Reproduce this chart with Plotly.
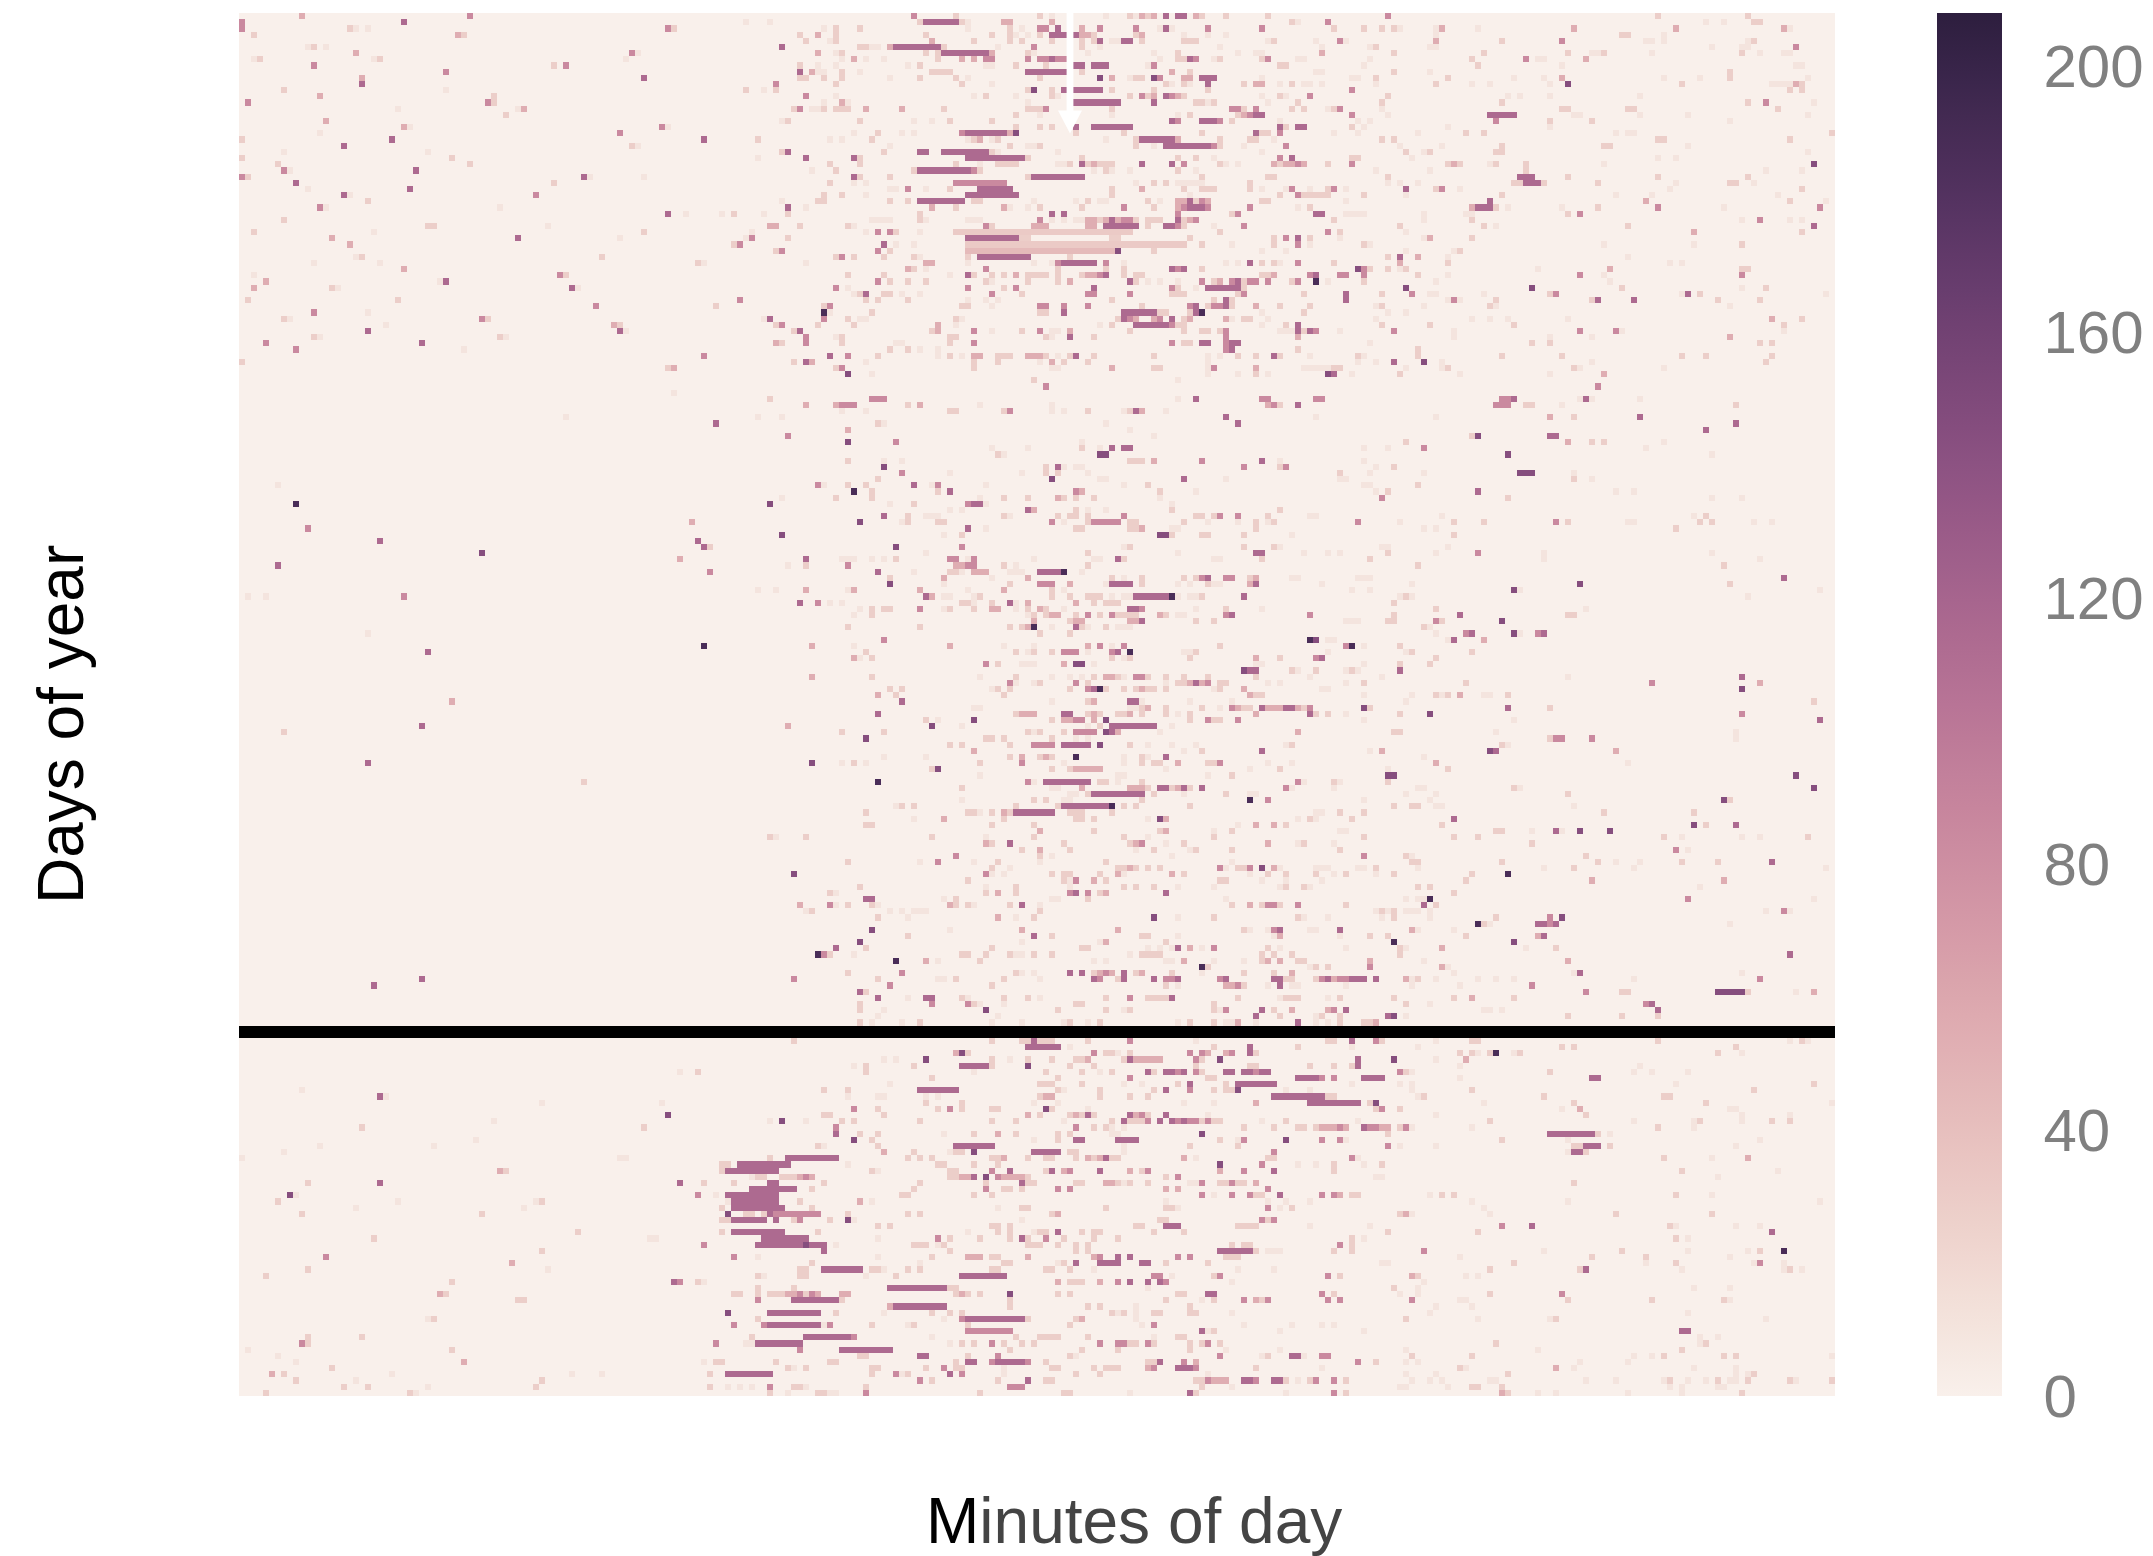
import math
import numpy as np
import plotly.graph_objects as go

N_DAYS = 224
N_BINS = 266
MISSING_DAYS = [164, 165]
COLORBAR_TICKS = [0, 40, 80, 120, 160, 200]
X_TITLE = "Minutes of day"
Y_TITLE = "Days of year"

# count for each letter used in the cell lists below
LEVELS = {"F": 10, "L": 28, "A": 31, "B": 44, "P": 55, "M": 85, "S": 114, "D": 145, "K": 187}

# (day, "level+bin or level+first-last bin")
left_cells = [
 (0,"P10"),(0,"M38"),(1,"M0 S27"),(2,"M0 L18 F19 F21 M71 L72"),(3,"L2 P36 L37"),(5,"F11 L12 F14"),(6,"P19 M65 F66"),
 (7,"F2 L3 F22 L23 F64"),(8,"M12 L52 M54"),(9,"M34"),(10,"P20 S67"),(11,"S20"),(12,"L7 F34"),(13,"P13 L42"),(14,"M1 M41 L42"),
 (15,"F26 F46 P47"),(16,"L44"),(17,"P14"),(18,"P27 F28 M70 F71"),(19,"F13 M63"),(20,"L0 S25 S77"),(21,"S17 L65 F66"),(22,"F7 F31"),
 (23,"L0 L35"),(24,"L6 L38"),(25,"M7 F8 S29"),(26,"M0 L1 S57 F58 F67"),(27,"S9 L52"),(28,"F11 S28"),(29,"S17 F18 M49"),(30,"L21"),
 (31,"M13 F14 F43"),(32,"S71 F74 F80 L82"),(33,"L7"),(34,"L31 L32 F51"),(35,"L2 F22 L67"),(36,"P15 S46 F63"),(37,"P18 L82"),
 (39,"F19 L20 L60"),(40,"F12 F23 L76 F77"),(41,"P27"),(42,"F2 M53 L54"),(43,"P4 F33 S34"),(44,"P2 L15 F16 S55 F56"),(46,"L1 L26 M83"),
 (47,"M59 L79"),(48,"M12 F21"),(49,"L7 F8 M40 L41"),(50,"F24 P62 L63"),(51,"S21 S63 F64"),(52,"L12 F13 L43 F44"),(53,"M4 S30"),
 (54,"M9 F37"),(56,"L0"),(57,"L71 P72"),(61,"F72"),(65,"F54"),(76,"F6"),(79,"K9"),(83,"M11"),(85,"S23 S76"),(82,"P75"),(87,"D40"),
 (89,"S6"),(88,"P73"),(94,"F1 F4 M27"),(100,"F21"),(103,"S31"),(111,"P35"),(115,"S30"),(116,"L7"),(121,"S21"),(124,"L57"),(157,"S22"),(156,"S30"),
 (171,"F73 L76"),(174,"F10"),(175,"S23 F24"),(176,"F50 F70"),(178,"D71"),(179,"F42"),(180,"L20 L67"),(182,"F39"),(183,"F13 F32"),(184,"F7"),
 (185,"F0 F63"),(187,"P43 L44"),(189,"L11 S23 S73"),(191,"D8 F9 P76"),(192,"L6 F26 F49 L50"),(193,"F19 F47"),(194,"L10 L40"),(197,"L56"),
 (198,"L22 F68 F69"),(200,"L50"),(201,"M14"),(202,"P45"),(203,"L11 F51"),(204,"L4"),(205,"L35 S72 L76"),(207,"P33 L34"),(208,"L46 L47"),
 (211,"F31 L32"),(214,"L20 L11"),(215,"M10 L11"),(216,"F1 L35"),(217,"F6"),(218,"F9 P37"),(219,"L15"),(220,"P5 L7 F25 F55 F60"),
 (221,"L9 F19 L50"),(222,"L17 L21 F31 L49"),(223,"L4 L28 F29"),
]
center_top = [
 (0,"M112 L119 L133 F135 F144 L148 F149 P150 L151 P152 S154 S156 S157 P159 L160 L164 L171 M191"),
 (1,"F84 F88 L113 S114-119 L120 F121 P127 P128 P135 L175 F176 M181"),
 (2,"F97 L99 L103 F121 L128 F130 M133 M134 S136 D138 P140 M143 M149 F153 S154 F155 M161 M170 L182 L187 L190 L192"),
 (3,"L93 P96 L99 L114 L125 L128 F129 F131 L133 S135-139 P140 P141 L142 L149 P150 F157 F161 F164"),
 (4,"L94 F98 L99 P115 L122 L128 L130 L135 M138 L140 L142 S143 F145 F146 S147 S148 L150 L157 L158 L159 F171 L172 F179 M183 F184"),
 (5,"S90 L103 L104 F105 F106 P108 S109-116 L117 F126 M132 L140 F143 F163 F180 F188 L189"),
 (6,"P96 F99 L100 L114 L116 S117-124 P125 L131 F132 F141 F152 L156 F166 F169 F170 P180 L192"),
 (7,"F100 P102 F104 F107 L116 P120 P122 M124 M125 M131 M133 M134 S135 M136 M137 F153 L156 L157 S158 M159 F162 L163 L170 M171 F176 F177 F188"),
 (8,"L93 F96 F99 F111 L113 F124 F125 L129 L134 S139 S140 S142 S143 S144 F151 M152 L173 L174 F187"),
 (9,"S93 P95 F96 F97 L100 F103 L115 L116 L117 L118 S131-137 L140 P155 L158 F179 F180 L192"),
 (10,"L93 L94 L97 L100 F108 L113 L119 F121 L133 F138 D143 P145 F148 L149 L150 D152 M153 P157 P158 S160 S161 S162 F170 F185 F186 L189"),
 (11,"M89 L99 L120 F125 L154 F155 L157 F158 S161 L167 P169 P170 F173 L175 F177 F178 F180 F189"),
 (12,"L84 F87 L89 L131 D132 L135 S137 S139-143 L145 L152 L161 M185"),
 (13,"M94 F99 F122 L124 F129 L135 F136 L148 M150 L151 P152 S154 M155 P156 L157 F170 L173 F174 M178 L191"),
 (14,"F97 P100 F101 F131 S139-146 S152 L159 L160 F161 L162 F171 L176 L190"),
 (15,"L92 M93 F95 F96 L97 L99 L100 L101 P104 P110 L117 L131 L132 L133 M134 L145 M165 M166 L167 M169 L175 L177 F181 L182 M183 F190"),
 (16,"L129 F133 F145 F156 L158 L166 P167 M168 S169 S170 M185 F191"),
 (17,"F90 L91 L103 F112 F115 L118 L125 S155 M156 S160-162 M163 L165 F173 F186 F188"),
 (18,"L129 L133 L135 S139 S142-148 S173 L174 S176 S177 L185 F187"),
 (19,"F102 L106 F110 F112 M120 S121-127 P128 D129 L139 L147 L160 S169 L170 L171 M173 F182 F186"),
 (20,"S77 L86 F98 F100 L105 F121 L122 P123 F125 L126 F144 L149 S150-155 P156 L163 L168 L169 F172 L190 L192"),
 (21,"F108 L128 F131 F132 L133 L149 F152 S154-161 M162 L163 F167 M174"),
 (22,"L90 S91 L107 S113 S114 S117-124 L125 F126 F136 F170"),
 (23,"F86 S94 S102 L103 S121-130 L131 L140 L156 L159 F162 M173 S175 L185 L186"),
 (24,"L98 L103 L119 F123 L126 L127 L128 L129 F136 F137 L138 S140 L141 P142 L143 L144 L145 S150 S155 M157 L163 F164 F166 P172 L173 P174 P175 M176 P177 L181 M185"),
 (25,"F95 L99 L112 S113-121 M122 L123 F142 L144 F145 F148 L156 F159 F189"),
 (26,"S102 L103 L108 L131 S132-140 L160 L171 L172 L191"),
 (27,"L98 F102 F104 M119-127 F149 L152 L154 F156-160 L168 F191"),
 (28,"F108 F109 M111 F114 L118 S123-128 L145 P150 L157 L160-162 L168 F170 F174 M175 F178 L181 M182 F184"),
 (29,"L97 L100 F104 S121-129 L145 F158 L173 M176 L177-181 L187"),
 (30,"F90 L96 L97 L108 L111 S113-120 M120 L122 L123 F132 F139 L141 F143 F144 L151 F153 P156 P157 S158 L159 M160 P161 L170 L171 F184"),
 (31,"S91 F94 P115 L119 P127 F128 F131 L133 L140 M147 L152 P156 M157 S158-160 M161 M168 F176 L178"),
 (32,"F80 L82 F87 L91 L113 S135 S137 M156 L165 M166 S179 S180 F184-187"),
 (33,"F105-108 L113 F114 F121-123 M133 F135 F137 F139 F140 P141 P142 L143 P144 S145 P146 M147 M148 L149 L151-153 S156 L157 P158 M159 L182"),
 (34,"P88 P89 L93 L101 F102 M124 L125 P132-134 P141 P142 S144-149 L151 S154 S155 M156 L157 F162 M167"),
 (35,"F85 F104 M106 M108 L109 F113 A119-148 L163 M181 L183"),
 (36,"F84 M85 L91 S121-129 L130 L131 L145 L146 L158 L172 M174 S176 L178 F183"),
 (37,"L82 M83 S107 F109 F112 A121-157 L160 F165 L172 M176 F178 L187 F188"),
 (38,"L89 M90 M106 L108 B121-145 D146 L152 F170 F174"),
 (39,"L99 M100 L102 L107 L112 F113 L121 S123-131 L138 L191 M193"),
 (40,"F94 P114 P115 F121 F132 F135 M136 S137-142 M144 F147 F164 F166 S168 L170 L172 F173 M176 L182"),
 (41,"P111 L112 F114 M124 L136 L144 L147 S155 M156 S157 L160 D186 M187 L188 L191"),
 (42,"L101 L107 F118 S121 L122 L125 L127 P129 L131-134 L136 L140 P141 P142 M143 S144 L147 L149 L150 L170 L171 P172 M178 S179 M183 M184 M187"),
 (43,"M106 L108 L111 L114 L124 F125 L131 L136 P138 S148 L149 F151 F153 F156 M160 L162 P163 M165 S166 L167 M168 M169 M171 L175 M176 K179 F181 L187"),
 (44,"M99 F101 M121 L127 M129 S142 M155 L156 F159 S161-166 L167"),
 (45,"F102 L103 S104 L107 L108 F110 F113 M125 L130 M141 M142 M148 L155-157 L166 M167 L177 S184 L190"),
 (46,"L104 L106 L111 F121 F124 F126 L145 L162 S164 L165 S184"),
 (47,"L97 M98 L120 L121 F125 M133 M134 M137 M141 L150 M158 S159 L161 M162 M163 S164 L165 P169 L173 L178 F189 L190"),
 (48,"K97 F98 L105 L133 L134 S137 S147-152 L153 L154 L158 S159 K160 F170 L177 F191"),
 (49,"F87 S88 M97 L101 F103 F104 L119 F120 L146 S147 M148 P149 P152 M153 S155 L157 P158 P164 F165 L167 L168 F171 F189"),
 (50,"L89 M90 L96 L102 P116 F119 F143 L145 S149-154 M155 L156 L157 F170 L174 S176 L190"),
 (51,"L92 S93 L115 P116 M122 F125 L130 M133 F135 F136 P138 L148 L157 L160 L161 L163 M164 F173-175 S176 L177 S178 M179 F183 M192"),
 (52,"M94 F99 L100 L118 L119 L134 F135 S138 L142 M164 P176"),
 (53,"P89 L90 M94 L100 F109 F110 L118 M122 M155 L157 L158 S160 S161 M164 S165 S166 F188"),
]
center_mid = [
 (54,"L108 L111 F113 F116 M164 S165 L176"),
 (55,"M77 S98 M101 L106 F116 L118 F120 P122 P123 L126 L127 L128 P131-133 L134 F136 L138 S139 L142 L152 F161 F163 L166 L169 S172 L173 F178 L186 F187"),
 (56,"L92 S94 P95 F104 L122 L126 F133 P135 L137 L141 F161 F186 F189 S192"),
 (57,"L99 M100 L122 F135 F136 P145 L152 L153 F161 M162 P169 F177-181 L182 L183"),
 (58,"D101 F105 F161 F166 L169 F171 D181 S182 F185"),
 (59,"L132 F156"),(60,"M134"),
 (62,"L88 M105-107 F156 S159 M170 M171 M179 M180"),
 (63,"P94 P99 M100 M101 M102 L111 P113 F123 F135 P171 M172 L173 S176"),
 (64,"F100 F104 L118 L119 L127 M128 F135 F137 L141 F147 L148 S149 P150 F154"),
 (65,"F86 F90 S164 F179"),(66,"S79 L106 F107 F144 S166"),(67,"P101 F148"),(68,"M91 F152"),(69,"D101 M109 F140"),
 (70,"F125 F131 L140 S145 S147 S148 F143 F187 F191"),(71,"L126 F127 D143 D144"),
 (72,"L101 F107 F110 L148 L149 L150 P152 M160 S170 F173 F187"),
 (73,"D107 L134 S136 F137 F139 F140 M167 L173 M174 F189 L192"),
 (74,"M110 F118 F130 L134 L136 F141 L183 F188"),
 (75,"L106 D135 F143 F144 S157 F164 F183 F184"),
 (76,"M96 F97 L101 L104 S112 F115 M116 F124 F147 L151 F187 F188"),
 (77,"K102 L105 L116 S118 M139 P140 L153 F159 F189 L191"),
 (78,"F90 L99 L105 F123 L127 L131 P136 L137 L139 L142 F153 M190"),
 (79,"D88 F108 L112 M121 S122 S123 F124 F155"),
 (80,"F118 F120 S131 P132 L139 F141 F144 L155 L173"),
 (81,"S107 L111 F114 F115 F116 L127 F128 L136 L138 L139 L141 M147 L159 L160 L162 M163 M166 L171 F178 F179"),
 (82,"D103 F110 L111 L116 L117 M135 F137 L141 M142-146 L148 L149 L157 F161 F166 L169 F171 L172 M186"),
 (83,"S121 F124 L139 L140 L148 L149 P150 F155 F156 L169"),
 (84,"D90 F117 L120 D153 D154 L155 L160 L161 L167 F175"),
 (86,"S77 L78 D109 M120 F147 L148 L167 L172 F173 F190 F191"),
 (87,"F114 L141 F156 S169 S170 F177 F181 F183 L191"),
 (88,"S94 F100 F101 F102 F105 F107 L109 M118 M119 F121 M122 F132 F142 F143 S146 L147 F162 F163 L170 L188"),
 (89,"F91 L94 M101 P119 P120 M121 M122 L127 F129 L141"),
 (90,"M78 S106 F112 L118 L119 F120 P122-124 F128-130 S133-136 K137 F140"),
 (91,"L108 P117 F125 P131 L145 F147 L150 L157 L159 M160 S161 M164 M165 L168 P169 F175 F176 F186-188"),
 (92,"D108 F117 L128 M133-135 P138 F144 S145-148 L150 F156 F158 L161 F162 F163 P168 S169 F180"),
 (93,"F86 F89 P94 F101 P102 P113 F121 P127 L135 F137 F185 F188"),
 (94,"S114 P115 F117 F118 F122 L123 L135 L138 L141-143 F145 F147 F148 L149 S149-155 K155 F156 F158 F159 L160 S167"),
 (95,"S93 M96 F98 F100 L120 L121 F122 L125 S128 F129 P131 P139 L142 L144-146 L192"),
 (96,"F103 L105 L107 L108 M113 F117 L118 L122 P125 P126 F129 L131 P133 L134 F137 S148 S149 M150 F159 L164 F170"),
 (97,"F102 L105 F131 L132 L134 P135 P136 L139 M141 L143 M145 L146-149 P153 L154 F156 F157 M164 S165 M178 L192"),
 (98,"P132 L138 P139 P140 P148 P149 S150 L159 L162 F184-186 L191 L192"),
 (99,"L101 L113 L128 L130 P131 K132 F135 S139 L140 F141 L144 F146-148"),
 (100,"L133 L138"),(101,"M107 K178 D179 F181 F182"),
 (102,"K77 P95 F102 P118 F127 F132 P141 M143 F145 M147 L163 M184 K185 F187"),
 (103,"L104 L129 F131 L132 L135 M137-139 F141 M145 S146 K148 F157 F158 L159 F181"),
 (104,"P102 F103 L105 L145 F147 L148 L158 P169 L173 M179 S180"),
 (105,"M124 L126 F130-132 P137 D139 D140 F142 F169 F170 F187"),
 (106,"D167 S168 S169 L175 F176 L179 F184 L185 F186 M193"),
 (107,"P95 L105 F123 L129 F135 F138 F140 L142 P144 P145 L146 F147 M149 M150 L151 L154 L157 L161 L169 F178 F190"),
 (108,"M128 F129 F132 L133 M139 L141 F154 L156 L157 P158 S159 P160 M161 L163 L164 F171 F173 F184 L187"),
 (109,"L108 L110 F125 L126 L128 L138 M141 S142 K143 L144 L147 L149 P150 L151 L152 L154 F162 L163 P167 F180 F181"),
 (110,"P106 L109 L127 P168 L169 L170 F187"),
 (111,"S110 F135 L141 P142 S148 S149 F150 F158 F165"),
]
center_low = [
 (112,"F122 F123 F148 F149 L150 P151 L154 L160 F163 M165 P166 L167 L168 S170 P171 P172 P173 S174 S175 P176 L177 M178 D187 L188"),
 (113,"S106 L129 P130-132 S137 S138 L141 P142 L143 L146 L147 P148 L150 L154 F156 L158 P169 S178 L179 L181 F184"),
 (114,"L114 F116 D122 L135 P137 P138 M139 M140 P142 D144 L158 M161 L162 L163 M166 F187"),
 (115,"P91 D115 F120 F141 L143 S145-152 F155"),
 (116,"L100 L107 L131 F132 L133 L137 M139-142 D144 S145 P146 F153 P176 L192"),
 (117,"D104 L124 L125 L127 L135 F139 F141"),
 (118,"L118 L120 L128 M132-135 S137-141 D143 L148 F151 F155 F159 F174 L175"),
 (119,"P122 F157 L160 S170 F188 P190"),
 (120,"F107 F114 L128 P130 L133 P134 L135 K139 F147 L150 F151 S154"),
 (121,"D95 F100 L102 F104 L123 M130 F137 F147 L150 L152 L153 P156 L161 L162 M163 F171 F175"),
 (122,"L115 D116 L135 L138 P139-143 F154 F168 L173 F191"),
 (123,"F123 F146 F147 F161 L165 D191 D192"),
 (124,"K106 M131 F132 S134-141 L143 L144 F146 L150 M176 F177 L182 F183 L191"),
 (125,"L120 F135 F136 P140 P148-150 L151 S153 S154 L155 P156 S157 L158 S160 M174 F175 F182"),
 (126,"F138 F139 L141 S142-150 L152 F157 L164 F168 F169"),
 (127,"F120 L132 L134 F137 F138 L150 K168 M171 F187"),
 (128,"F109 L110 L112 L129 L136 S137-144 K145 L147 L149 L158 L192"),
 (129,"L104 L121 L122 F123 L125 P127 L128 S129-135 L138 L139 L140 L145 F179 F180 L183 L187"),
 (130,"F112 P117 L127 L139 L140 L142 F151 D153 P154 F176 L178 F179 L185"),
 (131,"L104 L105 L125 L132 F166 P169 P172 L174"),
 (132,"P133 L142 L153 P154 F162 L165 F183 F184"),
 (133,"L88 F89 L94 L115 F124 L132 L147 F151 L162 L187"),
 (134,"P124 L125 S128 L137 L148 P149 M150 F154 L157 P171 F176 L177 F182"),
 (135,"L130 L133 P133 L138 F149 L152 F158 L159 L165 L183"),
 (136,"M119 L133 F135 F155 M187"),
 (137,"L101 F113 M116 F122 L126 F133 L144 F165"),
 (138,"L125 F128 L146 L147 P148 L149 L151 L153 M163 F164 L166 L167 M168 D170 P172 F173 F179-181 F186 F187 L189"),
 (139,"D92 M124 F125 F127 L135 L137 L138 L143 P146 F147 P155 L157 F168 L171 L174 L179 F182 L184 F189 L192"),
 (140,"L121 L137 F138 M139 P142 L144 L163 L164 F170 F174 F180"),
 (141,"L103 F124 L129 F138 L147 L149 L152 F156 F162 F173 L174 L177 F178"),
 (142,"L98 F99 L124 P126 L129 M138 S139 M141 L143 P144 S154"),
 (143,"S104 S105 F117 L119 F135 F136 L141 F164"),
 (144,"P93 M98 F99 L101 L105 F106 P118 L119 L121 F122 L128 S130 F133 L165 P168 L170 M171 M172 L173 M176 L184"),
 (145,"F94 L95 F108 F110 F112-114 L133 F189 L190 F191 L192"),
 (146,"L106 F111 P126 F129 L132 D152 F156 L162 L176 F177 F181 F190 L192"),
 (148,"D105 F118 P130 P146 L167 F168 F171 M172 S173 F178 F179 S183"),
 (149,"L111 S132 L135 L150 L151 F156 F172 P173 F183 L188 L191"),
 (150,"D103 F130 F143 P144 L154 K192"),
 (151,"S99 L104 L125 L140 L141 F151 F153 F155 S156 P158 F160 M162 L171 F173 F184"),
 (152,"K96 M97 L98 F102 L120 L121 L124 L128 F129 F130 L132 L135 F148 L150-153 L170 L172 L175"),
 (153,"K109 P114 F116 L123 F142 F144 F154 F155 P157 F162 F167 L170 P171 P173 L176 L177 P188"),
 (154,"K160 L161 F178 L179 L181 M188"),
 (155,"L101 M110 L129 F130 F132 S138 S140 L142 P143 M144 P145 S147 L149 P150 L155 F160 L167 L172 P175"),
 (156,"M92 L106 F116 F117 L119 L127 F133 S142 M143 L146 S147 S152 M154 M155 S156 M163 S164 S172 S173 L174 L175 L179 M180 S181 P182 M183 M184 S185-187 S189"),
 (157,"M108 L125 L154 F156 P164 P165 M166 L167 F171 S173 F175 F176 F184"),
 (158,"S103 L104"),
 (159,"S106 F111 S114 S115 L120 F121 L127 L131 F133 L144 M148 L151-154 S155 L166 F173 L174-176 F181 L183 L192"),
 (160,"L103 M115 M121 L122 F123 F127 L139 L140 L162"),
 (161,"L103 F107 D124 L136 L144 F147 L148 F163 L162 M164 S170 L172 P175 P181 M182 S184"),
 (162,"F106 F126 S169 L173 F179 L180 L183 S191 D192"),
 (163,"L103 F105 F110 L113 F125 F130 F137 L138 F141 L143 F156 L158 L162 F164 F165 P166 F169 S176 F179 F181 L183 L187 L188 P189"),
]
lower_block = [
 (166,"L92 L125 L130 L131 S132 L133 L134 L135 L141 M148 F159 L181 L182 S185 M189 L190"),
 (167,"S131-136 F138 L162 S168 L176 F185"),
 (168,"P119 D120 L121 M142 L144 L145 F146 L148 M158 M160 P161 P164 M165 S168 L169"),
 (169,"F107 F109 D114 L125 F128 L131 L135 L139 L140 P141 L147 S148 P149-153 M159 L160 D163 S186 D192"),
 (170,"F102 L104 L112 S120-124 L125 D131 L138 L142 L159 L168 L169 L178 L182 L185 S186"),
 (171,"F73 L76 L104 F122 L134 L140 F143 L145 S151 L152 S154 S155 M156 S157 M159 L160 S164 S165 S167 S168 M169 S170 S171"),
 (172,"L115 L136 M148 L161 L162 S176-179 M180 M182 S187-190"),
 (173,"F108 L133-135 L140 F147 F150 L156 S158 L164 S166-172 F185"),
 (174,"L97 L101 S113-119 L136 F137 L143 L152 S154 M158 L162 L164 L165 D166 F174 F178"),
 (175,"F101 F106 F107 F114 F116 L133 P134 P135 L143 L148 L151 S172-180 L181 L182"),
 (176,"F70 L114 L120 F132 F136 F157 F162 P169 S178-186 L188 D189"),
 (177,"M102 L106 L116 M118 L120 L125 L126 D134 L135 F141 L189 M190 L193"),
 (178,"D71 L97 L98 L107 P131 L133 L138 P139 L140 S141 L142 S148 P149 M150 L151 S154 F161"),
 (179,"F88 D90 F94 L100 L102 L113 L125 L129 F137 L145 S147 L148 L149 L150 M151 S153 S155 M156 S157 M158 M159 L160 M161 L162 L163 F170 L174 F186"),
 (180,"L67 M99 M139 L142 L144 F145 F147 L167 L172 L176 L177 L179 P180-182 M183 P184 S187 M188 M189 P190 P191 L193"),
 (181,"S99 L103 L106 F117 L122 P126 L129 L136 L138 F145 F146 D160 L191"),
 (182,"D102 L105 F132 L136 S139 S140 S146-149 L163 F166 M167 D174 M180 M183 F184"),
 (183,"L96 F97 L106 S119-125 F147 L158 L166 M191"),
 (184,"P107 L112 F118 L119 L120 D122 S132-136 L138 L139 F147 M172"),
 (185,"F64 L88 S91-99 L111 L113 L115 L125 L126 P127 L131 L134 L135 L139 P141 L142 P143 S144 L145 L146 P157 F159 L171 L172 M185 F186"),
 (186,"L80 L81 S83-91 F101 L116 L117 L122 L126 D163 M170 F176 F179 L182 F187 L190"),
 (187,"L80 S81-89 L105 F106 L118 L119 M125 S128 L134 S135 P137 M138 S143 P148 L150 M151 P163 M167 S172 L182"),
 (188,"F85 L86 L87 L90 L91 L92 P93 M94 P95 L118 L119 P120 P121 S122 D124 M126 P127-130 L131 L154 M156 F189 F190"),
 (189,"M73 L77 L82 S88 S89 L97 L113 L124 S130 L131 L132 L139 L140 P144 P145 L146 F147 L148 L151 F158 F159 M160 L163 L164 M165 L166 L167 P169"),
 (190,"S85-92 L95 L112 M124 L127 L128 L130 M136 M138 P154 P156 M171"),
 (191,"M76 F79 S81 S82-89 L110 L111 L122 L125 M160 F162 M165 M168 L169 L170 S173 M180 M182 P183 L185 L186"),
 (192,"F81 S82-89 L93 P103 F105 F154 F171 F174 F178"),
 (193,"L80 S82-90 L95 F126 L130 L131 L144 L154 L155 F156 M171 F173 L175"),
 (194,"D81 L84 L85 L87 S88 M89-96 L101 L111 L113 L135 P136 L193"),
 (195,"L80 L81 S82-87 S89 L92 M93 L98 D101 F102 F130 L153 L154 M170 L171 M172"),
 (196,"L106 L108 L125 L126 L128 L149 L150 S154-156 L166-169 F178 F188"),
 (197,"L80 S82-90 L96 F121 L126 L128 F132 L133 L134 S136 L140 L142 L143 L152 L157 L191"),
 (198,"F68 F69 S87-94 F106 M116 L118 L123 L128 S130 L131 M134 L137 L142 L146 L185 F187"),
 (199,"M77 S86-93 D94 S95-97 F99 L112 L113 L114 F116 L117 L131 L132 L133 L136 L139 L141 L165 L167 L168 M183 L185"),
 (200,"S97 L118 L139 L141 S163-168 L169 F171 F172 F173 L182 L185"),
 (201,"M82 F86 F106 L115 P121-123 L125 L126 P131 P142 M143 S146 S148 M156 M158 L164 L165 L166"),
 (202,"L95 F113 L127 L128 F136 L137 S139 S143-146 S150 S151 L154 L161 F190 F191"),
 (203,"L93 L94 S97-103 L105 L106 F107 L111 L113 L125 L126 L134 L135 L138 F142 F166 F172"),
 (204,"L86 F87 L93 L94 F104 L109 S120-127 M152 M153 F155 L162 M163 M181 L183"),
 (205,"M73 F76 F77 P136 L138 L139 L140 P143 M146 S148 S151 S153 M154 F165"),
 (206,"L86 L92 S108-117 L118 L119 F151 L192"),
 (207,"L82 L83 L86 L88 L89 L90 P91 P92 M93 L94 M95 P96 P100 P101 L119 P120 L121 L123 D128 L136 L138 L156 L157 S161 S162 M180 L182"),
 (208,"M86 S92-99 L100 L128 L154 F160 L162 M167 P169 L170 M171 M181 M183"),
 (209,"P108 S109-117 L128 L141 L143 F149 L158"),
 (210,"D81 S88-96 L99 F107 L115 L118 L120 L145 F146 L147 F149 L152 L153 L158 L159 F165"),
 (211,"L86 F117 M120 S121-130 L131 L139 P140 F149"),
 (212,"M82 M87 S88-96 F97 M98 L105 F111 L112 L121 L138 F150 M152 F167 F175 F180 F182"),
 (213,"M121-128 S160 F161 L162 F173 F187"),
 (214,"L85 S94-101 M102 F115 L129 L133-136 L141 F152 L156 L157"),
 (215,"M79 F84 F85 S86-93 F118 L120 L122 M125 L127 L130 L132 M143 M146 M147 L148 L149 M151 L152 L158 L160 M161 L163"),
 (216,"M93 S100-108 L128 L140 L146 L158 F164 F173"),
 (217,"L103 L104 S113 S114 L121 M126 L138 F139 M163 F170 L171 S175 S176 F177 M180 M181"),
 (218,"F77 L79 L80 L89 L98 L99 L119 S121 S122 M125 S126-129 S130 M131 L134 L151 L152 S153 M157 P159 M186 L189"),
 (219,"L91 F92 L94 L105 L106 L114 M117 L119 L120 F127 L135 L136 L142 L144 L145 L146 P151 M152 S156-158 M159 L169 F180"),
 (220,"F60 L78 S81-88 L105 M109 F110 L111 S118 M120 F127 L139 L143 F161"),
 (221,"M113 L115 L126 S131 L134 L135 L159 L160 M161 P162-164 S167 S168 M169 S172 S173 L174 F176 L178 M179 M182 L184"),
 (222,"L78 F81 F83 F85 M88 L92 L93 F94 L104 M128-130 L160 F165"),
 (223,"L88 F91 L96 L97 F98 F99 M104 L123 L137 L138 F148 S158 L159 F174 M182 L184"),
]
right_top = [
 (0,"L236 L251"),(1,"F244 F247 L252 L253"),(2,"F193 F199 P200 F206 P222 P239 P257 F258"),(3,"F199 L230 L231 F237"),
 (4,"P199 L210 M220 F234 F235 F237 F251 L252"),(5,"F198 F199 F245 F250 F251 M259"),(6,"L207 L221 F225 F226 L227 F235 L250 F253 F257 F258"),
 (7,"L205 M214 F216 F217 P224"),(8,"L206 F220 F259 F260"),(9,"F198 L248"),(10,"L201 F212 F217 P220 F237 F243 L248 F261"),
 (11,"L199 F205 F208 F218 D221 L240 F255-258 P259 L260"),(12,"L258 L260"),(13,"F211 F213 F218 F233"),(14,"L210 L251 M254 F262"),
 (15,"L220 L221 L231 L232 L256"),(16,"S208-212 F222 F223 F233 F241 F261"),(17,"M209 L218 L225 F248"),(18,"F201 F218"),
 (19,"F196 L204 L207 F229 F231 F232 L265"),(20,"L236 L237 L258"),(21,"F193 F200 L210 L227 L228 F241"),(22,"L194 F197 L198 L209 L210 F261"),
 (23,"F195 F236 F239"),(24,"L201 P202 L203 F208 L209 L214 F227 D262"),(25,"F198 L214 F254 F260"),(26,"L213 S213-215 L221 L236 L251"),
 (27,"F193 F196 L212 L213 S214-216 L217 L226 F239 L248 L249 F252"),(28,"S194 L199 M200 F203 F238 L260"),(29,"L210 F194 F229 F235 F256"),
 (30,"S208 P234 L258 F264"),(31,"P205 S206-208 L209 F211 F220 L226 M236 F247 M263"),(32,"F197 F204 F205 L221 M223"),
 (33,"F197 L205 F250 M253 F258 F260"),(34,"L193 L207 F209 L231 S262"),(35,"F194 P242 L260"),(36,"F197 P198 L205"),(37,"F227 F242 L250"),
 (38,"F194 F202 L203"),(39,"S193 P196 F201 F231"),(40,"P193 L201 F238 F240"),(41,"F193 L194 F216 P228 L250 L251"),(42,"L196 F201 M223 F227 M250"),
 (43,"F199 F228"),(44,"D194 D215 L230 F250 L254"),(45,"M195 F198 F199 F207 L218 M219 F240 S241 L243 F264"),
 (46,"F201 M202 F203 L209 L225 S226 S232 L246 L253"),(47,"F197 L208 F209 F248"),(48,"F194"),(49,"F205 F208 F211 F221 P255 L260"),
 (50,"L198 L212 L257"),(51,"F202 M223 M229 F230 F257"),(52,"F202 F218 F225 P248"),(53,"L215 L218 L253 L255"),
]
right_mid = [
 (54,"L196"),(55,"L196 L210 L220 L240 L244 L255"),(56,"D197 F200 F225 L254"),(57,"F194 F200 L201 L222 F223 F237"),(58,"L193 F203 F218 P227"),(60,"M226"),
 (62,"M210 M211 S212 F223 S224 F225 F233"),(63,"M209 M210 M211 L214 L215 F220 L249"),(65,"F199 P218 L222 S233"),(66,"S249"),(67,"S244"),
 (68,"L205 D206 S218 S219"),(69,"L194 P221 L225 L227 F237"),(70,"M197 F234"),(71,"D211 F245"),(74,"F197 D213-215 F222"),(75,"L222 F225"),(76,"L196"),
 (77,"S206 F229 F232"),(78,"L211 F245 F250"),(81,"F200 F242 L244"),(82,"F193 L202 L207 M219 L221 F231 F232 L243 L245 F252 F255"),(83,"F197 F199 L239"),
 (84,"L202"),(86,"F201"),(87,"F199 M206 F217 F245"),(88,"F217 F253"),(89,"L196 L247"),(91,"S257"),(92,"F195 D223 L248"),(93,"D212 F213 F263"),
 (94,"F193 L194 F195 F251"),(96,"L199 F224"),(97,"S203 L221 L222"),(98,"M199 L200 D210"),(99,"L197 F198"),(100,"F199 M204 S205 D212 F213 M216 S217"),
 (101,"F201 S202 P207"),(102,"L193"),(103,"F194 L195 L205"),(104,"L199"),(105,"L193 L198"),(106,"S193"),(107,"F221 S250"),(108,"L204 M235 P253"),(109,"D250"),
 (110,"F195 L199 F200 L201 P203 F207 F208 L211"),(111,"F194 L262"),
 (112,"S211 L218"),(113,"L193 D198 M250"),(114,"F212 S263"),(116,"L193 F209 F249"),(117,"L218 M219 M220 M225 F249"),(118,"L210 F211"),(119,"D208 S209 P229"),
 (120,"F197"),(121,"P199 F231"),(122,"L201"),(123,"D259"),(125,"F196 F197 L212 F213 D262"),(126,"F194 F199 L221"),(127,"F198 D247 L248"),
 (128,"L195 L196 F199 F200 F222"),(129,"L227 L242"),(130,"S202"),(131,"L200 D242 L244 S249"),(132,"L209 L210 F215 S219 F220 D223 D228"),
 (133,"L202 L206 L237 F240 F250 F253 L261"),(134,"L215"),(135,"M239 F241"),(136,"L194 F195 L224"),
 (137,"L195 L196 L210 L226 F229 F233 L240 L246 S255"),(138,"F196 F217 L222 F232 F264"),(139,"L205 K211"),(140,"L204 P225 P247"),(141,"L196 L198 F243"),
 (142,"L202"),(143,"F194 F196 F197 K198 M241 F262"),(144,"S197 L199"),(145,"F194-196 F198 F254 M257 F258"),(146,"F198 L209 M218 D220"),
 (147,"K206 L207 F208 S216 S217 M218 S219 F248"),(148,"P195 F196 F202"),(149,"L204 P216 S217"),(150,"D212"),(151,"L193 F194 P200 F214 L219"),
 (152,"L193 S258"),(153,"F197 P221"),(154,"P200 F201"),(155,"F202 F222 S223 F250"),(156,"P194 F195 L196 F199 F206 F209 F212 F232 M253"),
 (157,"F195 F203 M215"),(158,"M224 L230 L231 D246-250 L251 F259 P262"),(159,"L202 P205 L212"),(160,"L194 F198 M234 S235"),(161,"S236 F207 F208 F210"),
 (162,"F194 L221 L230 L236"),
]
right_low = [
 (166,"F199 L205 L206 L236 F258 L260 F261"),(167,"F196 L220 L222 L249"),(168,"L203 L205 F206 L208 K209 F212 L213 L246 F250"),(169,"F199 P204"),
 (170,"F203 F233"),(171,"M193 L194 F195 L218 F232 F235 F241"),(172,"F203 S225 S226"),(173,"F193 F195 F239 L262"),(174,"F195 L205 L252"),
 (175,"F196 L197 L217 L237 L238"),(176,"F207 L222 L244 F265"),(177,"F193 F220 P223 F248 F249"),(178,"F199 L224 F250 F258"),
 (179,"L208 F232 F242 L243 F250 L255 L258"),(180,"L193 M194 F195 F205 L236 F242"),(181,"S218-225 L226 F228"),(182,"L210 F221 F253"),
 (183,"F193 F199 L222 L223 S224-226 L228 F249"),(184,"F221 S222 S223 L224"),(185,"L237 F245 P251"),(187,"L240 F256"),(188,"F246"),(189,"L222"),
 (191,"F198 L200 L202 L239 F245"),(192,"F205 F221 F263"),(193,"F207"),(194,"F193 P194 F195 F208 L229 L245"),
 (196,"M210 S215 L238 F239 F249 F253"),(197,"L206 S255"),(198,"L239 F241"),(200,"M197 F217 L230 F241 F251 L253 K257"),(201,"F203 L225 L234 F248"),
 (202,"L212 F234 L239 F252 M253 F257"),(203,"L208 L223 S224 F240 F257 L258 F260"),(204,"P195 L196 F204 F206"),(205,"F197"),(206,"F196 F242 F248"),
 (207,"F193 F196 L208 M220"),(208,"M195 F203 F204 L221 L235 L247 F248"),(209,"F199 F205"),(210,"F198 F241"),(211,"L194 F206 F218 L219 F254"),
 (213,"S240 S241"),(214,"F243 F246"),(215,"L209 F243 L244"),(216,"F194 F216 L240"),(217,"L195 L205 F232 F235 L237 L247 L249 F265"),
 (218,"F194 F196 F223 F231"),(219,"L203 F204 P219 F222 F242 F249"),(220,"F194 F199 L211 F249 F251 L252"),
 (221,"F195 F198 F200 F208 F209 F224 F229 F237 L238 F241 F244 L246 F248 F249 L251 L258 F259 L265"),
 (222,"F193 F194 F201 L205 L206 L210 F238 F240 F246 F247"),(223,"P210 L211 F216 F219 F231 F240 L250"),
]

grid = np.zeros((N_DAYS, N_BINS))
for section in (left_cells, center_top, center_mid, center_low, lower_block, right_top, right_mid, right_low):
    for day, cells in section:
        for tok in cells.split():
            first, _, last = tok[1:].partition("-")
            a, b = int(first), int(last or first)
            grid[day, a:b + 1] = np.maximum(grid[day, a:b + 1], LEVELS[tok[0]])
for day in MISSING_DAYS:
    grid[day, :] = np.nan


def cubehelix(x, start=0.0, rot=0.4, hue=0.8):
    a = hue * x * (1 - x) / 2
    phi = 2 * math.pi * (start / 3 + rot * x)
    c, s = math.cos(phi), math.sin(phi)
    rgb = (x + a * (-0.14861 * c + 1.78277 * s), x + a * (-0.29227 * c - 0.90649 * s), x + a * 1.97294 * c)
    return "rgb(%d,%d,%d)" % tuple(round(255 * min(1, max(0, v))) for v in rgb)


colorscale = [[i / 40, cubehelix(0.95 - 0.8 * i / 40)] for i in range(41)]

OFF = 8  # the page's own margin
W, H = 2153 - OFF, 1556 - OFF
L, R, T, B = 239 - OFF, 1835 - OFF, 13 - OFF, 1396 - OFF
pw, ph = R - L, B - T

fig = go.Figure(go.Heatmap(
    z=grid, x=list(range(N_BINS)), y=list(range(N_DAYS)),
    colorscale=colorscale, zmin=0, zmax=208, hoverongaps=False,
    colorbar=dict(
        x=(1937 - OFF - L) / pw, xanchor="left", y=0.5, yanchor="middle", len=1, lenmode="fraction",
        ypad=0, xpad=0, thickness=65, thicknessmode="pixels", outlinewidth=0,
        tickmode="array", tickvals=COLORBAR_TICKS, ticktext=[str(t) for t in COLORBAR_TICKS],
        ticks="outside", ticklen=30, tickcolor="rgba(255,255,255,0)", tickwidth=1,
        tickfont=dict(family="Liberation Sans", size=60, color="#808080"),
    ),
))
fig.update_layout(
    width=W, height=H, autosize=False, paper_bgcolor="white", plot_bgcolor="black",
    margin=dict(l=L, r=W - R, t=T, b=H - B, autoexpand=False),
    xaxis=dict(range=[-0.5, N_BINS - 0.5], showticklabels=False, ticks="", showgrid=False, zeroline=False),
    yaxis=dict(range=[N_DAYS - 0.5, -0.5], showticklabels=False, ticks="", showgrid=False, zeroline=False),
    shapes=[
        dict(type="path", xref="x", yref="y", xsizemode="pixel", ysizemode="pixel", xanchor=138.0, yanchor=19,
             path="M0,0 L12,23 L3.4,23 L3.4,125 L-3.4,125 L-3.4,23 L-12,23 Z",
             fillcolor="white", line=dict(width=0), layer="above"),
    ],
    annotations=[
        dict(xref="paper", yref="paper", x=(61 - OFF - L) / pw, y=(B - (725 - OFF)) / ph, text=Y_TITLE, textangle=-90, showarrow=False,
             xanchor="center", yanchor="middle", font=dict(family="Liberation Sans", size=64, color="black")),
        dict(xref="paper", yref="paper", x=(1134 - OFF - L) / pw, y=(B - (1521 - OFF)) / ph,
             text='<span style="color:black">M</span>' + X_TITLE[1:], showarrow=False,
             xanchor="center", yanchor="middle", font=dict(family="Liberation Sans", size=64, color="#444444")),
    ],
)
fig.write_html("out.html")
